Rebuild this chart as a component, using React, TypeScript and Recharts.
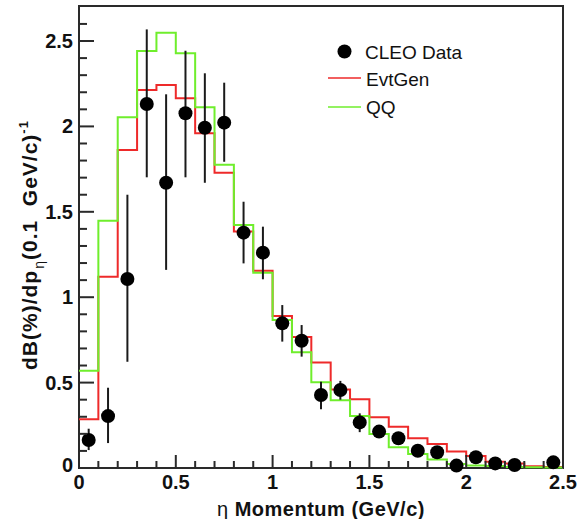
import React from "react";
import {
  ComposedChart,
  ErrorBar,
  Label,
  Line,
  ReferenceArea,
  Scatter,
  XAxis,
  YAxis,
} from "recharts";

// histogram bin edges (GeV/c), 0.1 wide
const binEdges = [
  0, 0.1, 0.2, 0.3, 0.4, 0.5, 0.6, 0.7, 0.8, 0.9, 1.0, 1.1, 1.2, 1.3, 1.4,
  1.5, 1.6, 1.7, 1.8, 1.9, 2.0, 2.1, 2.2, 2.3, 2.4, 2.5,
];

const evtGen = [
  0.285, 1.12, 1.862, 2.213, 2.242, 2.165, 1.96, 1.729, 1.384, 1.155, 0.89,
  0.767, 0.617, 0.46, 0.402, 0.297, 0.242, 0.174, 0.141, 0.096, 0.07, 0.037,
  0.027, 0.01, 0.006,
];

const qq = [
  0.57, 1.448, 2.053, 2.441, 2.549, 2.428, 2.112, 1.776, 1.423, 1.143, 0.866,
  0.678, 0.502, 0.396, 0.304, 0.199, 0.121, 0.082, 0.05, 0.023, 0.014, 0.012,
  0.006, 0.004, 0.003,
];

// CLEO data points
const dataX = [
  0.05, 0.15, 0.25, 0.35, 0.45, 0.55, 0.65, 0.75, 0.85, 0.95, 1.05, 1.15, 1.25,
  1.35, 1.45, 1.55, 1.65, 1.75, 1.85, 1.95, 2.05, 2.15, 2.25, 2.45,
];
const dataY = [
  0.164, 0.304, 1.107, 2.131, 1.67, 2.077, 1.992, 2.022, 1.378, 1.261, 0.847,
  0.745, 0.427, 0.457, 0.267, 0.213, 0.174, 0.101, 0.092, 0.014, 0.063, 0.027,
  0.018, 0.033,
];
const errLow = [
  0.105, 0.146, 0.622, 1.702, 1.16, 1.702, 1.67, 1.793, 1.198, 1.105, 0.74,
  0.652, 0.344, 0.4, 0.21, 0.185, 0.15, 0.08, 0.072, 0.0, 0.045, 0.012, 0.005,
  0.015,
];
const errHigh = [
  0.23, 0.47, 1.6, 2.568, 2.188, 2.443, 2.311, 2.256, 1.559, 1.413, 0.954,
  0.837, 0.505, 0.51, 0.32, 0.245, 0.2, 0.12, 0.112, 0.03, 0.08, 0.04, 0.03,
  0.062,
];

const xTicks = [
  0, 0.1, 0.2, 0.3, 0.4, 0.5, 0.6, 0.7, 0.8, 0.9, 1.0, 1.1, 1.2, 1.3, 1.4,
  1.5, 1.6, 1.7, 1.8, 1.9, 2.0, 2.1, 2.2, 2.3, 2.4, 2.5,
];
const yTicks = [
  0, 0.1, 0.2, 0.3, 0.4, 0.5, 0.6, 0.7, 0.8, 0.9, 1.0, 1.1, 1.2, 1.3, 1.4,
  1.5, 1.6, 1.7, 1.8, 1.9, 2.0, 2.1, 2.2, 2.3, 2.4, 2.5, 2.6,
];

const Y_MAX = 2.705;
const PLOT_LEFT = 79;
const PLOT_BOTTOM = 468;
const FONT = "'Liberation Sans', Arial, Helvetica, sans-serif";
const AXIS_COLOR = "#2a2a2a";
const RED = "#ee2a2a";
const GREEN = "#6fee2c";

const stepRows = (vals: number[]) =>
  binEdges.map((x, i) => ({ x, y: vals[Math.min(i, vals.length - 1)] }));

const evtRows = stepRows(evtGen);
const qqRows = stepRows(qq);
const pointRows = dataX.map((x, i) => ({
  x,
  y: dataY[i],
  err: [dataY[i] - errLow[i], errHigh[i] - dataY[i]],
}));

const isMajor = (v: number) => Math.abs(v * 2 - Math.round(v * 2)) < 1e-6;
const fmt = (v: number) => String(Math.round(v * 10) / 10);

const XTick = (props: any) => {
  const { x, payload } = props;
  const major = isMajor(payload.value);
  return (
    <g>
      <line
        x1={x}
        x2={x}
        y1={PLOT_BOTTOM}
        y2={PLOT_BOTTOM - (major ? 13 : 7)}
        stroke={AXIS_COLOR}
        strokeWidth={2}
      />
      {major && (
        <text
          x={x}
          y={489}
          textAnchor="middle"
          fontFamily={FONT}
          fontWeight="bold"
          fontSize={20}
          fill="#111"
        >
          {fmt(payload.value)}
        </text>
      )}
    </g>
  );
};

const YTick = (props: any) => {
  const { y, payload } = props;
  const major = isMajor(payload.value);
  return (
    <g>
      <line
        x1={PLOT_LEFT}
        x2={PLOT_LEFT + (major ? 15 : 8)}
        y1={y}
        y2={y}
        stroke={AXIS_COLOR}
        strokeWidth={2}
      />
      {major && (
        <text
          x={73}
          y={y}
          dy={payload.value === 0 ? 4 : 7}
          textAnchor="end"
          fontFamily={FONT}
          fontWeight="bold"
          fontSize={20}
          fill="#111"
        >
          {fmt(payload.value)}
        </text>
      )}
    </g>
  );
};

const XTitle = () => (
  <text
    x={321}
    y={516}
    textAnchor="middle"
    fontFamily={FONT}
    fontWeight="bold"
    fontSize={20}
    letterSpacing={0.5}
    fill="#111"
  >
    <tspan fontWeight="normal">η</tspan> Momentum (GeV/c)
  </text>
);

const YTitle = () => (
  <text
    transform="rotate(-90)"
    x={-370}
    y={37}
    textAnchor="start"
    fontFamily={FONT}
    fontWeight="bold"
    fontSize={21}
    letterSpacing={1}
    fill="#111"
  >
    dB(%)/dp
    <tspan fontSize={14} fontWeight="normal" dy={7} dx={1}>
      η
    </tspan>
    <tspan dy={-7}>(0.1&#160; GeV/c)</tspan>
    <tspan fontSize={13} dy={-9}>
      -1
    </tspan>
  </text>
);

const Dot = (props: any) => (
  <circle cx={props.cx} cy={props.cy} r={7} fill="#000" />
);

export default function App() {
  return (
    <div style={{ position: "absolute", left: 0, top: 0, width: 580, height: 519 }}>
      <ComposedChart
        width={580}
        height={519}
        margin={{ top: 6, right: 17, bottom: 21, left: 19 }}
      >
        <XAxis
          type="number"
          dataKey="x"
          domain={[0, 2.5]}
          ticks={xTicks}
          interval={0}
          height={30}
          tick={<XTick />}
          tickLine={false}
          axisLine={false}
        >
          <Label content={<XTitle />} />
        </XAxis>
        <YAxis
          type="number"
          dataKey="y"
          domain={[0, Y_MAX]}
          ticks={yTicks}
          interval={0}
          width={60}
          tick={<YTick />}
          tickLine={false}
          axisLine={false}
        >
          <Label content={<YTitle />} />
        </YAxis>
        <ReferenceArea
          x1={0}
          x2={2.5}
          y1={0}
          y2={Y_MAX}
          fill="none"
          stroke={AXIS_COLOR}
          strokeWidth={2}
          ifOverflow="visible"
        />
        <Line
          data={evtRows}
          dataKey="y"
          type="stepAfter"
          stroke={RED}
          strokeWidth={2}
          dot={false}
          isAnimationActive={false}
        />
        <Line
          data={qqRows}
          dataKey="y"
          type="stepAfter"
          stroke={GREEN}
          strokeWidth={2}
          dot={false}
          isAnimationActive={false}
        />
        <Scatter
          data={pointRows}
          dataKey="y"
          shape={<Dot />}
          isAnimationActive={false}
        >
          <ErrorBar
            dataKey="err"
            direction="y"
            width={0}
            stroke="#1a1a1a"
            strokeWidth={2}
            isAnimationActive={false}
          />
        </Scatter>
      </ComposedChart>
      <svg
        width={580}
        height={519}
        style={{ position: "absolute", left: 0, top: 0, pointerEvents: "none" }}
      >
        <circle cx={344.5} cy={51.5} r={7} fill="#000" />
        <text x={365} y={59} fontFamily={FONT} fontSize={19} fill="#111">
          CLEO Data
        </text>
        <line x1={328} x2={361} y1={78} y2={78} stroke={RED} strokeWidth={1.5} />
        <text x={366} y={86} fontFamily={FONT} fontSize={19} fill="#111">
          EvtGen
        </text>
        <line x1={328} x2={361} y1={107} y2={107} stroke={GREEN} strokeWidth={1.5} />
        <text x={366} y={114} fontFamily={FONT} fontSize={19} fill="#111">
          QQ
        </text>
      </svg>
    </div>
  );
}
